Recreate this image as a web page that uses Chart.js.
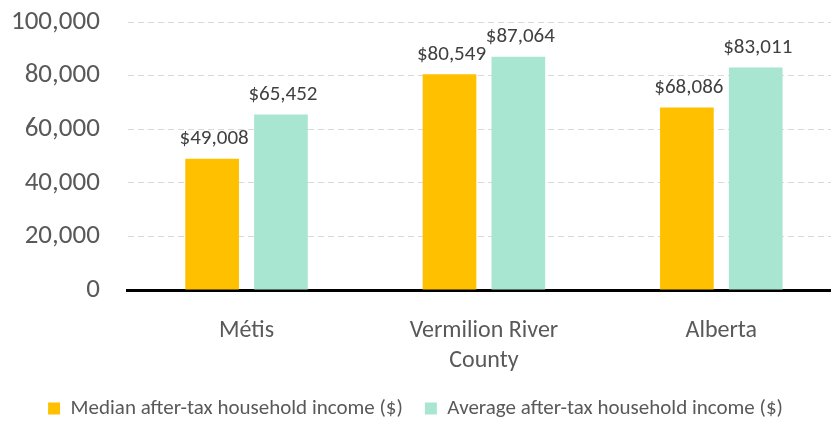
<!DOCTYPE html>
<html lang="en">
<head>
<meta charset="UTF-8">
<title>After-tax household income</title>
<script src="https://cdn.jsdelivr.net/npm/chart.js@4.4.0/dist/chart.umd.min.js"></script>
<style>
    html, body { margin: 0; padding: 0; background: #fff; overflow: hidden; }
    /* plot runs slightly past the right edge like the original */
    .wrap { width: 846px; height: 421px; margin-left: -6px; }
</style>
</head>
<body>
<div class="wrap"><canvas id="incomeChart"></canvas></div>
<script>
    const categories = ['Métis', ['Vermilion River', 'County'], 'Alberta'];
    const medianIncome = [49008, 80549, 68086];
    const averageIncome = [65452, 87064, 83011];
    const yTicks = [0, 20000, 40000, 60000, 80000, 100000];

    const fontFamily = 'Calibri, Carlito, Lato, sans-serif';

    // draw "$xx,xxx" above each bar
    const barLabels = {
        id: 'barLabels',
        afterDatasetsDraw(chart) {
            const ctx = chart.ctx;
            ctx.save();
            ctx.font = '21px ' + fontFamily;
            ctx.fillStyle = '#404040';
            ctx.textAlign = 'center';
            ctx.textBaseline = 'bottom';
            chart.data.datasets.forEach((ds, i) => {
                chart.getDatasetMeta(i).data.forEach((bar, j) => {
                    ctx.fillText('$' + ds.data[j].toLocaleString('en-US'), bar.x + 2, bar.y - 9);
                });
            });
            ctx.restore();
        }
    };

    new Chart(document.getElementById('incomeChart'), {
        type: 'bar',
        data: {
            labels: categories,
            datasets: [{
                label: 'Median after-tax household income ($)',
                data: medianIncome,
                backgroundColor: '#FFC000'
            }, {
                label: 'Average after-tax household income ($)',
                data: averageIncome,
                backgroundColor: '#A9E6D2'
            }]
        },
        options: {
            responsive: true,
            maintainAspectRatio: false,
            animation: false,
            categoryPercentage: 0.58,
            barPercentage: 0.78,
            layout: { padding: { top: 0, left: -11, right: -8, bottom: -8 } },
            scales: {
                x: {
                    grid: { display: false, drawTicks: false },
                    border: { color: '#000', width: 3 },
                    ticks: { color: '#595959', font: { family: fontFamily, size: 24, lineHeight: 1.25 }, padding: 26 },
                    afterFit: axis => { axis.height -= 26; }
                },
                y: {
                    min: 0,
                    max: 100000,
                    afterBuildTicks: axis => { axis.ticks = yTicks.map(v => ({ value: v })); },
                    // tick padding would otherwise be added above the plot too
                    afterFit: axis => { axis.paddingTop = 22; },
                    grid: { color: '#D9D9D9', drawTicks: false },
                    border: { display: false, dash: [6, 4] },
                    ticks: {
                        color: '#595959',
                        font: { family: fontFamily, size: 27 },
                        padding: 28,
                        callback: v => v.toLocaleString('en-US')
                    }
                }
            },
            plugins: {
                legend: {
                    position: 'bottom',
                    labels: {
                        color: '#595959',
                        font: { family: fontFamily, size: 21 },
                        boxWidth: 12,
                        boxHeight: 12,
                        padding: 22
                    }
                },
                tooltip: { enabled: false }
            }
        },
        plugins: [barLabels]
    });
</script>
</body>
</html>
